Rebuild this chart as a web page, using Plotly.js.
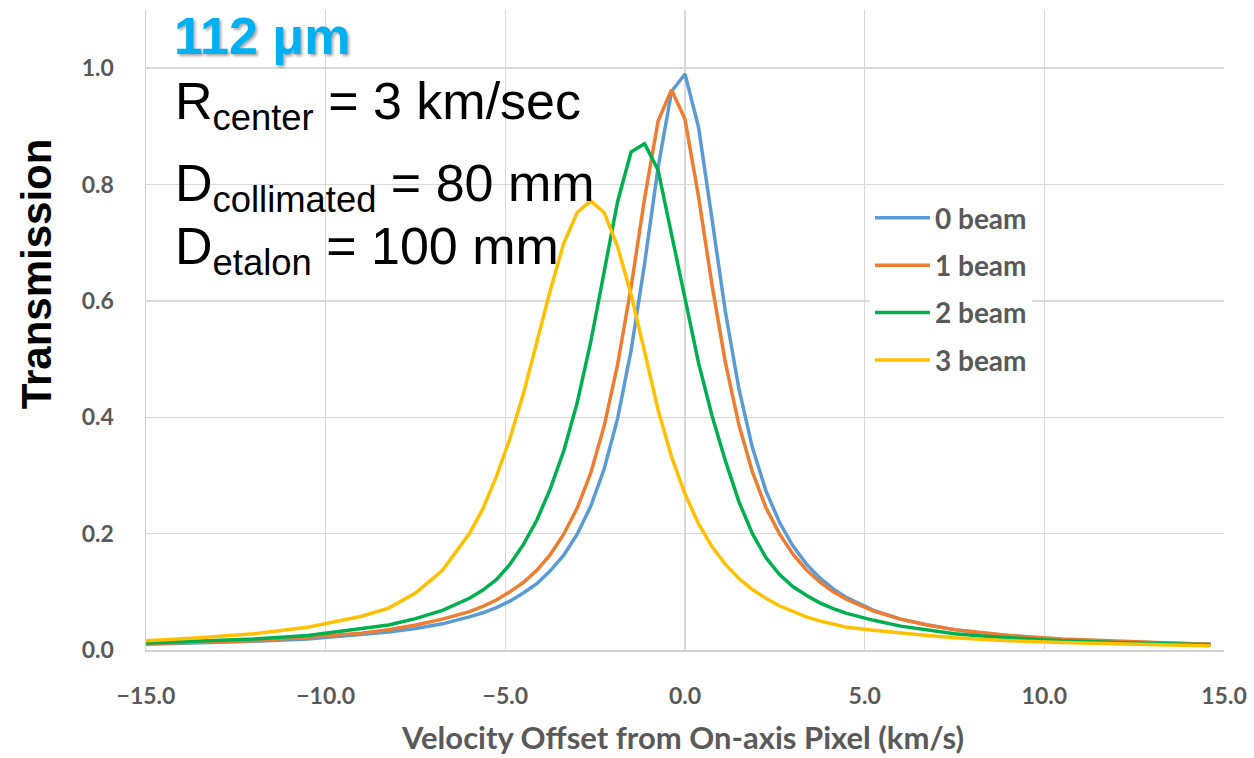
<!DOCTYPE html>
<html>
<head>
<meta charset="utf-8">
<script src="https://cdn.plot.ly/plotly-3.0.1.min.js"></script>
<style>html,body{margin:0;padding:0;background:#fff;}#chart{width:1254px;height:758px;}</style>
</head>
<body>
<div id="chart"></div>
<script>
// Velocity offset from on-axis pixel (km/s)
var velocity = [-15, -13.5, -12, -10.5, -9, -8.25, -7.5, -6.75,
  -6, -5.625, -5.25, -4.875, -4.5, -4.125, -3.75, -3.375, -3, -2.625, -2.25, -1.875, -1.5, -1.125, -0.75, -0.375,
  0, 0.375, 0.75, 1.125, 1.5, 1.875, 2.25, 2.625, 3, 3.375, 3.75, 4.125, 4.5,
  5.25, 6, 6.75, 7.5, 8.25, 9, 10.5, 12, 13.5, 14.625];

var beam0 = [0.010, 0.012, 0.015, 0.019, 0.026, 0.031, 0.037, 0.045,
  0.057, 0.064, 0.073, 0.084, 0.098, 0.114, 0.136, 0.163, 0.199, 0.247, 0.311, 0.398, 0.515, 0.664, 0.829, 0.960,
  0.990, 0.899, 0.741, 0.581, 0.449, 0.348, 0.274, 0.220, 0.179, 0.148, 0.124, 0.105, 0.090,
  0.068, 0.053, 0.043, 0.035, 0.029, 0.025, 0.018, 0.014, 0.011, 0.010];

var beam1 = [0.011, 0.013, 0.016, 0.022, 0.029, 0.035, 0.043, 0.053,
  0.066, 0.075, 0.086, 0.100, 0.116, 0.137, 0.164, 0.199, 0.244, 0.304, 0.385, 0.491, 0.624, 0.776, 0.909, 0.963,
  0.912, 0.780, 0.628, 0.494, 0.387, 0.306, 0.245, 0.200, 0.165, 0.138, 0.117, 0.100, 0.087,
  0.067, 0.053, 0.043, 0.035, 0.030, 0.025, 0.019, 0.015, 0.012, 0.010];

var beam2 = [0.012, 0.015, 0.019, 0.025, 0.036, 0.043, 0.054, 0.068,
  0.089, 0.103, 0.121, 0.147, 0.181, 0.223, 0.277, 0.342, 0.425, 0.529, 0.650, 0.771, 0.856, 0.870, 0.825, 0.715,
  0.601, 0.494, 0.403, 0.325, 0.255, 0.200, 0.159, 0.130, 0.109, 0.094, 0.081, 0.071, 0.063,
  0.051, 0.041, 0.034, 0.028, 0.024, 0.021, 0.016, 0.013, 0.010, 0.009];

var beam3 = [0.016, 0.021, 0.028, 0.039, 0.058, 0.072, 0.098, 0.137,
  0.200, 0.243, 0.298, 0.363, 0.440, 0.528, 0.618, 0.699, 0.752, 0.772, 0.752, 0.693, 0.611, 0.513, 0.413, 0.332,
  0.268, 0.217, 0.178, 0.147, 0.123, 0.104, 0.089, 0.076, 0.066, 0.057, 0.050, 0.044, 0.039,
  0.034, 0.029, 0.025, 0.021, 0.018, 0.016, 0.013, 0.010, 0.0085, 0.0074];

var seriesNames = ['0 beam', '1 beam', '2 beam', '3 beam'];
var seriesColors = ['#5b9bd5', '#ed7d31', '#00b050', '#ffc000'];
var seriesValues = [beam0, beam1, beam2, beam3];

var xTicks = [-15, -10, -5, 0, 5, 10, 15];
var yTicks = [0, 0.2, 0.4, 0.6, 0.8, 1.0];

var traces = seriesValues.map(function (vals, i) {
  return {
    x: velocity, y: vals, type: 'scatter', mode: 'lines',
    name: seriesNames[i], legendgroup: 'g' + i,
    line: {color: seriesColors[i], width: 3.5},
    hoverinfo: 'skip'
  };
});

var tickFont = {family: 'Lato, Carlito, Calibri, sans-serif', size: 23, color: '#595959', weight: 700};

var layout = {
  width: 1254, height: 758,
  margin: {l: 146, r: 30, t: 10, b: 108},
  paper_bgcolor: '#ffffff', plot_bgcolor: '#ffffff',
  showlegend: true,
  legend: {
    x: 0.6716, y: 0.714, xanchor: 'left', yanchor: 'top',
    bgcolor: '#ffffff', borderwidth: 0,
    font: {family: 'Lato, Carlito, Calibri, sans-serif', size: 28, color: '#595959', weight: 700},
    tracegroupgap: 8, itemwidth: 55
  },
  xaxis: {
    range: [-15, 15], tickvals: xTicks, tickformat: '.1f',
    showgrid: true, gridcolor: '#d9d9d9', gridwidth: 1.5,
    zeroline: false, showline: true, linecolor: '#d0d0d0', linewidth: 1.5,
    ticks: '', ticklabelstandoff: 25, tickfont: tickFont
  },
  yaxis: {
    range: [0, 1.1], tickvals: yTicks, tickformat: '.1f',
    showgrid: true, gridcolor: '#d9d9d9', gridwidth: 1.5,
    zeroline: false, showline: true, linecolor: '#d0d0d0', linewidth: 1.5,
    ticks: '', ticklabelstandoff: 26, tickfont: tickFont
  },
  annotations: [
    {xref: 'paper', yref: 'paper', x: -0.102, y: 0.587, xanchor: 'center', yanchor: 'middle',
     text: '<b>Transmission</b>', textangle: -90, showarrow: false,
     font: {family: 'Arial, Liberation Sans, sans-serif', size: 42, color: '#000000'}},
    {xref: 'paper', yref: 'paper', x: 0.498, y: (650 - 757) / 640, xanchor: 'center', yanchor: 'bottom',
     text: 'Velocity Offset from On-axis Pixel (km/s)', showarrow: false, borderpad: 0,
     font: {family: 'Lato, Carlito, Calibri, sans-serif', size: 31, color: '#595959', weight: 700}},
    {xref: 'paper', yref: 'paper', x: 0.024, y: 1.008, xanchor: 'left', yanchor: 'top',
     text: '<b>112 μm</b>', showarrow: false,
     font: {family: 'Arial, Liberation Sans, sans-serif', size: 52, color: '#00b0f0', shadow: '2px 2px 3px rgba(0,0,0,0.35)'}},
    {xref: 'paper', yref: 'paper', x: 0.025, y: (650 - 70) / 640, xanchor: 'left', yanchor: 'top',
     text: 'R<sub>center</sub> = 3 km/sec', showarrow: false,
     font: {family: 'Arial, Liberation Sans, sans-serif', size: 52, color: '#000000'}},
    {xref: 'paper', yref: 'paper', x: 0.025, y: (650 - 152) / 640, xanchor: 'left', yanchor: 'top',
     text: 'D<sub>collimated</sub> = 80 mm', showarrow: false,
     font: {family: 'Arial, Liberation Sans, sans-serif', size: 52, color: '#000000'}},
    {xref: 'paper', yref: 'paper', x: 0.025, y: (650 - 215) / 640, xanchor: 'left', yanchor: 'top',
     text: 'D<sub>etalon</sub> = 100 mm', showarrow: false,
     font: {family: 'Arial, Liberation Sans, sans-serif', size: 52, color: '#000000'}}
  ]
};

Plotly.newPlot('chart', traces, layout, {displayModeBar: false, staticPlot: true});
</script>
</body>
</html>
